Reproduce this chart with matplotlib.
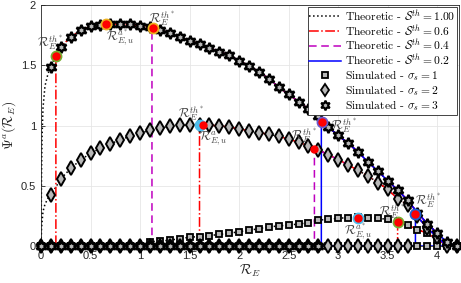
import numpy as np
import matplotlib
matplotlib.use("Agg")
import matplotlib.pyplot as plt
from matplotlib.lines import Line2D

plt.rcParams['mathtext.fontset'] = 'cm'
plt.rcParams['font.family'] = ['Liberation Sans', 'DejaVu Sans']

# simulated grid (R_E)
r_grid = [round(0.1 * i, 1) for i in range(0, 43)]

# sigma_s = 3 (hexagrams)
psi_s3 = [0.0, 1.49, 1.655, 1.735, 1.79, 1.825, 1.838, 1.843, 1.843, 1.84, 1.83,
          1.815, 1.795, 1.768, 1.735, 1.705, 1.68, 1.645, 1.615, 1.585, 1.54,
          1.495, 1.448, 1.39, 1.32, 1.26, 1.2, 1.14, 1.08, 0.99, 0.92,
          0.855, 0.785, 0.70, 0.625, 0.545, 0.468, 0.385, 0.28, 0.19, 0.11,
          0.035, 0.0]
# sigma_s = 2 (diamonds)
psi_s2 = [0.0, 0.427, 0.56, 0.648, 0.717, 0.772, 0.813, 0.852, 0.882, 0.915, 0.94,
          0.962, 0.98, 0.995, 1.003, 1.006, 1.006, 1.005, 1.0, 0.99, 0.975,
          0.958, 0.943, 0.93, 0.912, 0.89, 0.863, 0.835, 0.8, 0.76, 0.72,
          0.677, 0.63, 0.585, 0.53, 0.474, 0.395, 0.345, 0.25, 0.15, 0.08,
          0.0, 0.0]
# sigma_s = 1 (squares)
psi_s1 = [0.0, 0.0, 0.0, 0.0, 0.0, 0.0, 0.0, 0.0, 0.0, 0.0, 0.0,
          0.04, 0.045, 0.052, 0.065, 0.077, 0.082, 0.09, 0.1, 0.109, 0.123,
          0.134, 0.148, 0.163, 0.17, 0.178, 0.186, 0.197, 0.218, 0.225, 0.233,
          0.24, 0.242, 0.24, 0.234, 0.225, 0.205, 0.18, 0.14, 0.11, 0.055,
          0.012, 0.0]

# steep start of the theoretic curves near R_E = 0
start_x = [0.0, 0.005, 0.01, 0.02, 0.04, 0.07]
start_s3 = [0.0, 0.6, 0.9, 1.15, 1.33, 1.43]
start_s2 = [0.0, 0.15, 0.2, 0.29, 0.35, 0.4]

# thresholds R_E^{th*} and curve value there
thr_red = [(0.15, 1.58, 's3'), (1.60, 1.006, 's2'), (3.60, 0.205, 's1')]
thr_mag = [(1.12, 1.813, 's3'), (2.76, 0.81, 's2')]
thr_blue = [(2.83, 1.034, 's3'), (3.78, 0.267, 's2')]

# simulated points that are zero (truncated S^th series)
zero_sq_max = 4.2
zero_dia_max = 3.7
zero_hex_max = 2.8

# highlighted points
ring_x = [0.15, 0.66, 1.13, 1.60, 2.84, 3.20, 3.60, 3.78]
ring_y = [1.58, 1.84, 1.813, 1.006, 1.034, 0.236, 0.205, 0.267]
ring_c = ['#77ac30', '#edb120', '#edb120', '#4dbeee', '#6a5acd', '#4dbeee', '#77ac30', '#1f5fd0']
dot_x = [0.15, 0.66, 1.13, 1.64, 2.76, 2.84, 3.20, 3.60, 3.78]
dot_y = [1.58, 1.84, 1.813, 1.006, 0.81, 1.034, 0.236, 0.205, 0.267]

lab_th = r'$\mathcal{R}_E^{th^*}$'
lab_a = r'$\mathcal{R}_{E,u}^{a^*}$'
ann_txt = [lab_th, lab_a, lab_th, lab_th, lab_a, lab_th, lab_th, lab_a, lab_th, lab_th]
ann_x = [0.09, 0.80, 1.22, 1.52, 1.74, 2.66, 3.06, 3.20, 3.54, 3.91]
ann_y = [1.69, 1.73, 1.885, 1.10, 0.905, 0.92, 1.0, 0.125, 0.29, 0.385]

x = np.array(r_grid)
curves = {'s3': np.array(psi_s3), 's2': np.array(psi_s2), 's1': np.array(psi_s1)}

fig = plt.figure(figsize=(4.61, 2.83), dpi=100)
ax = fig.add_axes([0.089, 0.129, 0.9067, 0.853])

lw = 1.1
# S^th = 1.00 (full curves)
ax.plot(start_x + list(x[1:]), start_s3 + list(psi_s3[1:]), ':', color='k', lw=lw)
ax.plot(start_x + list(x[1:]), start_s2 + list(psi_s2[1:]), ':', color='k', lw=lw)
ax.plot(x, psi_s1, ':', color='k', lw=lw)


def trunc(t, v, key):
    m = x > t + 1e-9
    xs = np.concatenate([[0, t, t], x[m]])
    ys = np.concatenate([[0, 0, v], curves[key][m]])
    return xs, ys


for t, v, k in thr_red:
    xs, ys = trunc(t, v, k)
    ax.plot(xs, ys, '-.', color='r', lw=lw)
for t, v, k in thr_mag:
    xs, ys = trunc(t, v, k)
    ax.plot(xs, ys, '--', color='m', lw=lw, dashes=(5, 3))
for t, v, k in thr_blue:
    xs, ys = trunc(t, v, k)
    ax.plot(xs, ys, '-', color='b', lw=lw)
ax.plot(x, np.zeros_like(x), '-', color='b', lw=lw)

gray = '#b8b8b8'
hexa = (6, 1, 0)
mk = dict(ls='none', markerfacecolor=gray, markeredgecolor='k', clip_on=False, zorder=3)
# zero-valued simulated points
ax.plot(x[x <= zero_sq_max + 1e-9], 0 * x[x <= zero_sq_max + 1e-9], marker='s', ms=5, mew=1.3, **mk)
ax.plot(x, psi_s1, marker='s', ms=5, mew=1.3, **mk)
ax.plot(x[x <= zero_dia_max + 1e-9], 0 * x[x <= zero_dia_max + 1e-9], marker='d', ms=7.5, mew=1.4, **mk)
ax.plot(x[1:], psi_s2[1:], marker='d', ms=7.5, mew=1.4, **mk)
ax.plot(x[x <= zero_hex_max + 1e-9], 0 * x[x <= zero_hex_max + 1e-9], marker=hexa, ms=8, mew=1.7, **mk)
ax.plot(x[1:], psi_s3[1:], marker=hexa, ms=8, mew=1.7, **mk)

for xi, yi, c in zip(ring_x, ring_y, ring_c):
    ax.plot(xi, yi, 'o', ms=7.5, color=c, mec=c, zorder=4)
ax.plot(dot_x, dot_y, 'o', ms=5, color='r', mec='r', zorder=5)

for t, xi, yi in zip(ann_txt, ann_x, ann_y):
    ax.text(xi, yi, t, fontsize=9, color='#404040', ha='center', va='center', zorder=6)

ax.set_xlim(0, 4.22)
ax.set_ylim(0, 2)
ax.set_xticks(np.arange(0, 4.01, 0.5))
ax.set_xticklabels(['0', '0.5', '1', '1.5', '2', '2.5', '3', '3.5', '4'])
ax.set_yticks([0, 0.5, 1, 1.5, 2])
ax.set_yticklabels(['0', '0.5', '1', '1.5', '2'])
ax.tick_params(direction='in', length=3, labelsize=8, colors='#262626', width=0.6)
ax.grid(True, color='#e6e6e6', lw=0.6)
ax.set_axisbelow(True)
for s in ax.spines.values():
    s.set_color('#262626')
    s.set_linewidth(0.6)
ax.set_xlabel(r'$\mathcal{R}_E$', fontsize=10, color='#262626', labelpad=1)
ax.set_ylabel(r'$\Psi^a(\mathcal{R}_E)$', fontsize=10, color='#262626', labelpad=2)

handles = [
    Line2D([], [], ls=':', color='k', lw=lw),
    Line2D([], [], ls='-.', color='r', lw=lw),
    Line2D([], [], ls='--', color='m', lw=lw, dashes=(5, 3)),
    Line2D([], [], ls='-', color='b', lw=lw),
    Line2D([], [], ls='none', marker='s', ms=4, mfc=gray, mec='k', mew=1.3),
    Line2D([], [], ls='none', marker='d', ms=6, mfc=gray, mec='k', mew=1.3),
    Line2D([], [], ls='none', marker=hexa, ms=7, mfc=gray, mec='k', mew=1.5),
]
labels = [
    r'$\text{Theoretic - }\mathcal{S}^{th}=1.00$',
    r'$\text{Theoretic - }\mathcal{S}^{th}=0.6$',
    r'$\text{Theoretic - }\mathcal{S}^{th}=0.4$',
    r'$\text{Theoretic - }\mathcal{S}^{th}=0.2$',
    r'$\text{Simulated - }\sigma_s=1$',
    r'$\text{Simulated - }\sigma_s=2$',
    r'$\text{Simulated - }\sigma_s=3$',
]
leg = ax.legend(handles, labels, loc='upper right', fontsize=8.3, frameon=True, fancybox=False,
                framealpha=1, edgecolor='#262626', borderpad=0.15, labelspacing=0.0,
                handlelength=2.7, handletextpad=0.4, borderaxespad=0.15)
leg.get_frame().set_linewidth(0.6)
leg.set_zorder(10)

fig.savefig('out.png', dpi=100)
